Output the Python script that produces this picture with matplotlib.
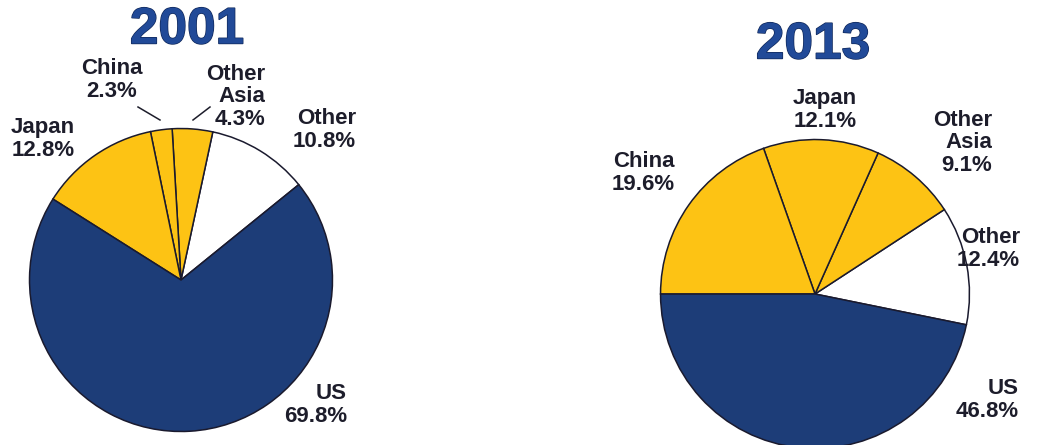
import matplotlib
matplotlib.use("Agg")
import matplotlib.pyplot as plt
import matplotlib.patheffects as pe

# Share of world total by region
regions_2001 = ["Other", "Other Asia", "China", "Japan", "US"]
shares_2001 = [10.8, 4.3, 2.3, 12.8, 69.8]
label_text_2001 = ["Other\n10.8%", "Other\nAsia\n4.3%", "China\n2.3%", "Japan\n12.8%", "US\n69.8%"]

regions_2013 = ["Other", "Other Asia", "Japan", "China", "US"]
shares_2013 = [12.4, 9.1, 12.1, 19.6, 46.8]
label_text_2013 = ["Other\n12.4%", "Other\nAsia\n9.1%", "Japan\n12.1%", "China\n19.6%", "US\n46.8%"]

NAVY = "#1d3d78"
GOLD = "#fdc314"
WHITE = "#ffffff"
region_colors = {"Other": WHITE, "Other Asia": GOLD, "China": GOLD, "Japan": GOLD, "US": NAVY}

W, H = 1052, 445
fig = plt.figure(figsize=(W / 100, H / 100), dpi=100)
fig.patch.set_facecolor("white")


def px(x, y):
    return x / W, 1 - y / H


def pie_axes(cx, cy, r):
    ax = fig.add_axes([(cx - r) / W, (H - cy - r) / H, 2 * r / W, 2 * r / H])
    return ax


def draw_pie(ax, regions, shares, start):
    ax.pie(shares, colors=[region_colors[r] for r in regions], startangle=start,
           counterclock=True, radius=1.0,
           wedgeprops=dict(edgecolor="#1a1a2e", linewidth=1.1))
    ax.set_xlim(-1.01, 1.01)
    ax.set_ylim(-1.01, 1.01)
    ax.set_aspect("auto")
    ax.axis("off")


# 2001 pie
ax1 = pie_axes(181, 280, 153)
draw_pie(ax1, regions_2001, shares_2001, 39)

# 2013 pie
ax2 = pie_axes(815, 294, 156)
draw_pie(ax2, regions_2013, shares_2013, -11.5)

title_style = dict(fontsize=37, fontweight="bold", color="#214a98",
                   family="Liberation Sans", ha="center", va="center")
outline = [pe.withStroke(linewidth=1.0, foreground="#10285a")]
fig.text(*px(187, 30), "2001", path_effects=outline, **title_style)
fig.text(*px(813, 45), "2013", path_effects=outline, **title_style)

label_style = dict(fontsize=16, fontweight="bold", color="#1d1d2b",
                   family="Liberation Sans", va="center", linespacing=1.12)

# Label anchors (pixel positions) and alignment per wedge
pos_2001 = [(356, 130, "right"), (265, 97, "right"), (112, 80, "center"),
            (75, 139, "right"), (347, 405, "right")]
pos_2013 = [(1020, 249, "right"), (992, 143, "right"), (825, 110, "center"),
            (675, 173, "right"), (1019, 400, "right")]

for txt, (x, y, al) in zip(label_text_2001, pos_2001):
    fig.text(*px(x, y), txt, ha=al, multialignment=al, **label_style)
for txt, (x, y, al) in zip(label_text_2013, pos_2013):
    fig.text(*px(x, y), txt, ha=al, multialignment=al, **label_style)

# Leader lines for the two narrow 2001 wedges
for (x0, y0), (x1, y1) in [((138, 107), (160, 120)), ((210, 107), (193, 120))]:
    fig.add_artist(plt.Line2D([x0 / W, x1 / W], [1 - y0 / H, 1 - y1 / H],
                              color="#1d1d2b", linewidth=1.1))

fig.savefig("out.png", dpi=100)
